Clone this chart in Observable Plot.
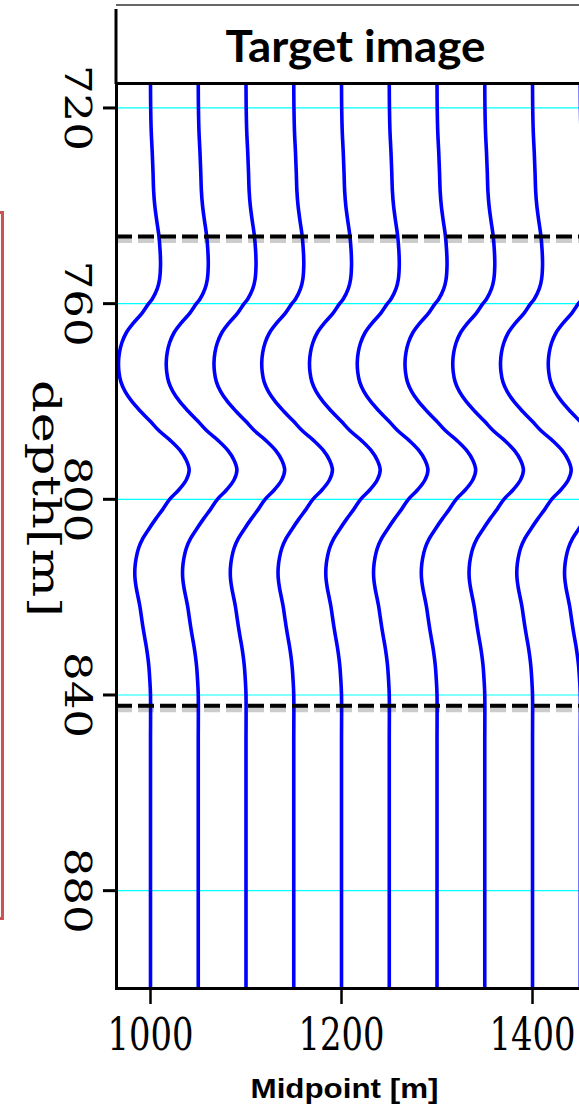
<!DOCTYPE html>
<html><head><meta charset="utf-8">
<script src="https://cdn.jsdelivr.net/npm/d3@7"></script>
<script src="https://cdn.jsdelivr.net/npm/@observablehq/plot@0.6"></script>
<style>
html,body{margin:0;padding:0;background:#fff;overflow:hidden;}
#wrap{position:relative;width:579px;height:1105px;overflow:hidden;}
#redpanel{position:absolute;left:-20px;top:211px;width:24px;height:709px;border:3px solid #c85555;box-sizing:border-box;background:#fcf3f3;z-index:2;}
</style></head><body><div id="wrap"><div id="redpanel"></div></div>
<script>
// ---- data ----
const midpoints = [1000, 1050, 1100, 1150, 1200, 1250, 1300, 1350, 1400, 1450];
const waveDepth = [715, 720, 725, 729, 733, 737, 740, 743, 746, 749, 752, 755, 757, 759, 760, 762, 764, 766, 768, 770, 772, 774, 776, 778, 780, 782, 784, 786, 788, 790, 792, 794, 796, 798, 800, 802, 804, 806, 808, 810, 812, 814, 816, 818, 820, 822, 824, 826, 828, 830, 832, 834, 837, 840, 850, 870, 900];
const waveAmp = [0, 0.2, 0.8, 1.8, 2.6, 3.3, 4.5, 6.5, 8.7, 10, 10.5, 9.5, 7, 2, -2, -9, -18, -25.5, -30, -32.5, -33.5, -33, -31, -26.5, -19.5, -10.5, -0.5, 9, 21, 31, 37.5, 40.5, 37.5, 30, 20, 13, 5.5, -1.5, -8, -12.5, -15, -16.3, -16.3, -15, -13, -11, -9.5, -8, -6.3, -4.5, -3, -1.8, -0.7, 0, 0, 0, 0];
const depthTicks = [720, 760, 800, 840, 880];
const midTicks = [1000, 1200, 1400];
const horizons = [746.3, 842.2];
const titleText = "Target image";
const xLabel = "Midpoint [m]";
const yLabel = "depth[m]";

const traces = midpoints.flatMap(m => waveDepth.map((d, i) => ({mid: m, depth: d, amp: waveAmp[i]})));

const serif = "DejaVu Serif, Liberation Serif, serif";

const chart = Plot.plot({
  width: 579, height: 1105,
  marginLeft: 116, marginRight: -15, marginTop: 83, marginBottom: 117,
  x: {domain: [964.4, 1464.9], axis: null},
  y: {domain: [715, 900], reverse: true, axis: null},
  style: {background: "transparent", overflow: "visible"},
  marks: [
    Plot.ruleY(depthTicks, {stroke: "#00ffff", strokeWidth: 1.2}),
    Plot.line(traces, {x: d => d.mid + d.amp, y: "depth", z: "mid", stroke: "#0000ff", strokeWidth: 3.6, curve: "catmull-rom", clip: true}),
    Plot.ruleY(horizons, {stroke: "#000", strokeOpacity: 0.2, strokeWidth: 7, dy: 3, strokeDasharray: "16,6"}),
    Plot.ruleY(horizons, {stroke: "#000", strokeWidth: 4, strokeDasharray: "16,6"}),
    Plot.frame({stroke: "#000", strokeWidth: 3}),
    Plot.axisY({ticks: depthTicks, tickSize: 13, strokeWidth: 3, tickFormat: () => "", label: null}),
    Plot.axisX({ticks: midTicks, tickSize: 16, strokeWidth: 2.5, tickFormat: () => "", label: null}),
    Plot.text(midTicks, {x: d => d, frameAnchor: "bottom", dy: 47, text: d => String(d), fontFamily: serif, fontSize: 45, textAnchor: "middle", lineAnchor: "middle"}),
    Plot.text(depthTicks, {y: d => d, frameAnchor: "left", dx: -40, rotate: 90, text: d => String(d), fontFamily: serif, fontSize: 37, textAnchor: "middle", lineAnchor: "middle"}),
    Plot.text([yLabel], {frameAnchor: "left", dx: -71, dy: -37.5, rotate: 90, text: d => d, fontFamily: serif, fontSize: 39, textAnchor: "middle", lineAnchor: "middle"}),
    Plot.text([xLabel], {frameAnchor: "bottom", dx: -11, dy: 100.4, text: d => d, fontFamily: "Liberation Sans, Arial, sans-serif", fontWeight: "bold", fontSize: 27, textAnchor: "middle", lineAnchor: "middle"}),
    Plot.text([titleText], {frameAnchor: "top", dy: -36, text: d => d, fontFamily: "Lato", fontWeight: "bold", fontSize: 44, textAnchor: "middle", lineAnchor: "middle"})
  ]
});

document.getElementById("wrap").appendChild(chart);

const svg = d3.select(chart.tagName.toLowerCase() === "svg" ? chart : chart.querySelector("svg"));
const lengths = new Map([
  ...midTicks.map(t => [String(t), 86]),
  ...depthTicks.map(t => [String(t), 86]),
  [yLabel, 237], [xLabel, 188], [titleText, 260]
]);
svg.selectAll("text").each(function() {
  const t = this.textContent;
  if (lengths.has(t)) {
    d3.select(this).attr("textLength", lengths.get(t)).attr("lengthAdjust", "spacingAndGlyphs");
  }
});
// title box edges
svg.append("line").attr("x1", 116).attr("x2", 600).attr("y1", 5).attr("y2", 5).attr("stroke", "#333").attr("stroke-width", 1.5);
svg.append("line").attr("x1", 116).attr("x2", 116).attr("y1", 9).attr("y2", 84).attr("stroke", "#000").attr("stroke-width", 3);
</script>
</body></html>
